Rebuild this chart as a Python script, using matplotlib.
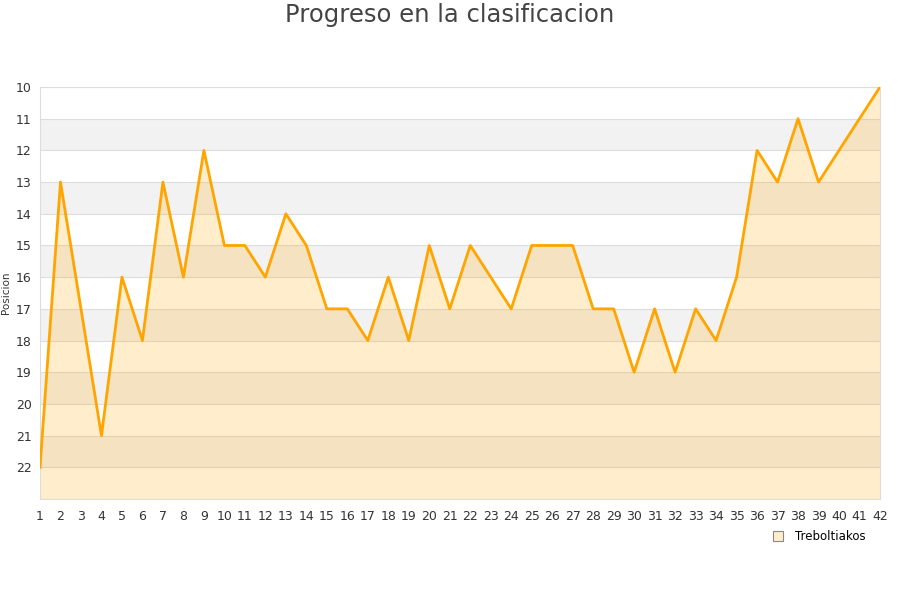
import matplotlib
matplotlib.use("Agg")
import matplotlib.pyplot as plt
from matplotlib.lines import Line2D

jornadas = list(range(1, 43))
posiciones = [22, 13, 17, 21, 16, 18, 13, 16, 12, 15, 15, 16, 14, 15, 17, 17, 18, 16, 18, 15,
              17, 15, 16, 17, 15, 15, 15, 17, 17, 19, 17, 19, 17, 18, 16, 12, 13, 11, 13, 12,
              11, 10]
team = "Treboltiakos"
title = "Progreso en la clasificacion"
ylabel = "Posicion"

fig = plt.figure(figsize=(9, 6), dpi=100)
ax = fig.add_axes([40/900, 1-499/600, 840/900, 412/600])

ymin, ymax = 10, 23
for lo in range(11, 23, 2):
    ax.axhspan(lo, lo + 1, color="#f2f2f2", zorder=0, lw=0)
for y in range(10, 24):
    ax.axhline(y, color="#dddddd", lw=0.8, zorder=1)

ax.fill_between(jornadas, posiciones, ymax, color="#FFA500", alpha=0.2, lw=0, zorder=2)
ax.plot(jornadas, posiciones, color="#FFA500", lw=2, zorder=3)

ax.set_xlim(1, 42)
ax.set_ylim(ymax, ymin)
ax.set_xticks(jornadas)
ax.set_yticks(range(10, 23))
ax.tick_params(length=0, labelsize=9, colors="#333333")
ax.tick_params(axis="x", pad=8)
ax.tick_params(axis="y", pad=6)
for s in ax.spines.values():
    s.set_color("#dddddd")
ax.set_ylabel(ylabel, fontsize=7.5, color="#333333")
ax.yaxis.set_label_coords(-29/840, 0.5)

fig.text(0.5, 1-15/600, title, ha="center", va="center", fontsize=17.5, color="#444444")

handle = Line2D([], [], marker="s", linestyle="none", markersize=6.5,
                markerfacecolor="#FFEDCC", markeredgecolor="#888888", markeredgewidth=0.8)
fig.legend([handle], [team], loc="center", bbox_to_anchor=(816/900, 1-537/600),
           frameon=False, fontsize=8.5, handletextpad=0.4)

fig.savefig("out.png", dpi=100)
